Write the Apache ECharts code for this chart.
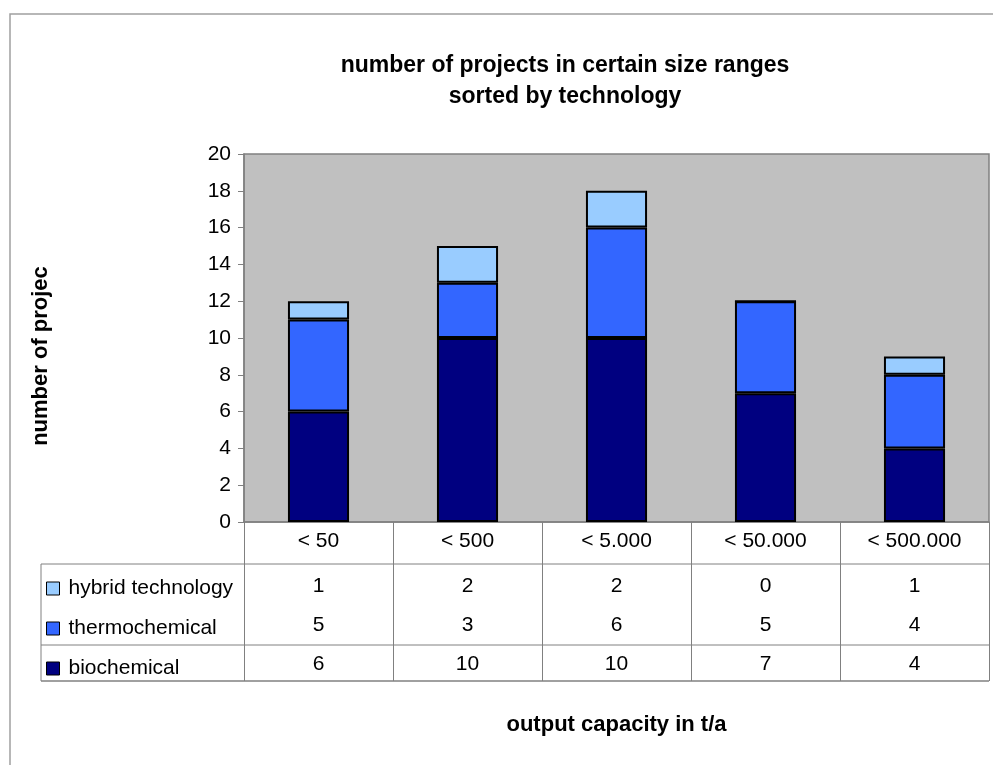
<!DOCTYPE html>
<html>
<head>
<meta charset="utf-8">
<script src="https://cdn.jsdelivr.net/npm/echarts@6/dist/echarts.min.js"></script>
<style>
  html, body { margin: 0; padding: 0; background: #ffffff; }
  #chart { width: 993px; height: 765px; }
</style>
</head>
<body>
<div id="chart"></div>
<script>
// Size ranges (output capacity in t/a)
var categories = ['< 50', '< 500', '< 5.000', '< 50.000', '< 500.000'];
// Number of projects per technology
var hybrid = [1, 2, 2, 0, 1];
var thermochemical = [5, 3, 6, 5, 4];
var biochemical = [6, 10, 10, 7, 4];
var yTicks = [0, 2, 4, 6, 8, 10, 12, 14, 16, 18, 20];

var FONT = '"Liberation Sans", Arial, sans-serif';
var GRAY = '#808080';

var chart = echarts.init(document.getElementById('chart'), null, { renderer: 'canvas' });

// A data-table row is a hidden category axis whose labels show one series' values
function tableRow(values, offset) {
  return {
    type: 'category',
    data: categories,
    position: 'bottom',
    offset: offset,
    axisLine: { show: false },
    axisTick: { show: false },
    axisLabel: {
      margin: 9,
      fontFamily: FONT,
      fontSize: 21,
      color: '#000',
      formatter: function (v, i) { return String(values[i]); }
    }
  };
}

var option = {
  backgroundColor: '#ffffff',
  animation: false,
  title: {
    text: 'number of projects in certain size ranges\nsorted by technology',
    left: 560,
    top: 45,
    textAlign: 'center',
    textStyle: {
      fontFamily: FONT,
      fontSize: 23,
      fontWeight: 'bold',
      color: '#000',
      lineHeight: 31
    }
  },
  legend: {
    orient: 'vertical',
    left: 41,
    top: 573,
    itemWidth: 13,
    itemHeight: 13,
    itemGap: 19,
    icon: 'rect',
    data: ['hybrid technology', 'thermochemical', 'biochemical'],
    textStyle: { fontFamily: FONT, fontSize: 21, color: '#000', padding: [0, 0, 0, 4] },
    itemStyle: { borderColor: '#000', borderWidth: 1 }
  },
  grid: {
    left: 244,
    right: 4,
    top: 154,
    bottom: 243,
    show: true,
    backgroundColor: '#c0c0c0',
    borderColor: GRAY,
    borderWidth: 1.5
  },
  xAxis: [
    {
      type: 'category',
      data: categories,
      position: 'bottom',
      name: 'output capacity in t/a',
      nameLocation: 'middle',
      nameGap: 192,
      nameTextStyle: { fontFamily: FONT, fontSize: 22, fontWeight: 'bold', color: '#000' },
      axisLine: { show: true, lineStyle: { color: GRAY, width: 1.5 } },
      axisTick: { show: true, length: 159, lineStyle: { color: GRAY, width: 1 } },
      axisLabel: { margin: 9, fontFamily: FONT, fontSize: 21, color: '#000' }
    },
    tableRow(hybrid, 45),
    tableRow(thermochemical, 84),
    tableRow(biochemical, 123)
  ],
  yAxis: {
    type: 'value',
    min: 0,
    max: 20,
    interval: 2,
    axisLine: { show: true, lineStyle: { color: GRAY, width: 1.5 } },
    axisTick: { show: true, length: 6, lineStyle: { color: GRAY } },
    axisLabel: {
      margin: 13,
      fontFamily: FONT,
      fontSize: 21,
      color: '#000',
      formatter: function (v) { return yTicks.indexOf(v) >= 0 ? String(v) : ''; }
    },
    splitLine: { show: false }
  },
  series: [
    {
      name: 'biochemical',
      type: 'bar',
      stack: 'total',
      barWidth: '41%',
      data: biochemical,
      itemStyle: { color: '#000080', borderColor: '#000', borderWidth: 2 }
    },
    {
      name: 'thermochemical',
      type: 'bar',
      stack: 'total',
      barWidth: '41%',
      data: thermochemical,
      itemStyle: { color: '#3366ff', borderColor: '#000', borderWidth: 2 }
    },
    {
      name: 'hybrid technology',
      type: 'bar',
      stack: 'total',
      barWidth: '41%',
      data: hybrid,
      itemStyle: { color: '#99ccff', borderColor: '#000', borderWidth: 2 }
    }
  ],
  graphic: [
    // outer chart frame (top and left edges visible)
    { type: 'rect', shape: { x: 10, y: 14, width: 1000, height: 800 },
      style: { fill: 'none', stroke: '#a0a0a0', lineWidth: 1.5 }, silent: true },
    // value-axis title, set a little below the plot's middle
    { type: 'text', x: 41, y: 356, rotation: Math.PI / 2,
      style: { text: 'number of projec', fontFamily: FONT, fontSize: 22, fontWeight: 'bold',
               fill: '#000', align: 'center', verticalAlign: 'middle' }, silent: true },
    // data table rules
    { type: 'line', shape: { x1: 41, y1: 564, x2: 989, y2: 564 }, style: { stroke: GRAY, lineWidth: 1 }, silent: true },
    { type: 'line', shape: { x1: 41, y1: 645, x2: 989, y2: 645 }, style: { stroke: GRAY, lineWidth: 1 }, silent: true },
    { type: 'line', shape: { x1: 41, y1: 681, x2: 989, y2: 681 }, style: { stroke: GRAY, lineWidth: 1.5 }, silent: true },
    { type: 'line', shape: { x1: 41, y1: 564, x2: 41, y2: 681 }, style: { stroke: GRAY, lineWidth: 1 }, silent: true }
  ]
};

chart.setOption(option);
</script>
</body>
</html>
